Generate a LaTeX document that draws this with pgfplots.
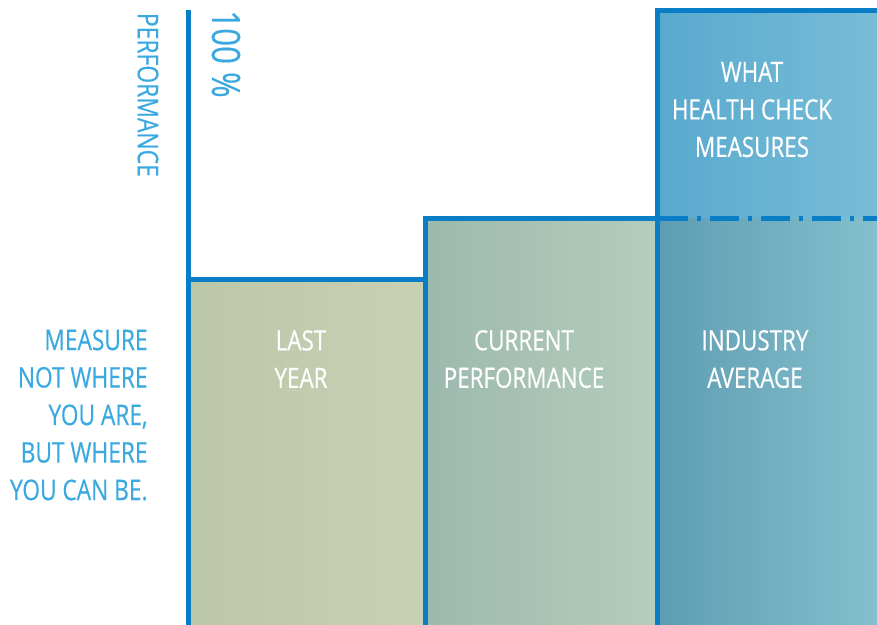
\documentclass[border=0pt]{standalone}
\usepackage{pgfplots}
\pgfplotsset{compat=1.18}
\usepackage{fontspec}
\setmainfont{Open Sans}[FakeStretch=0.8, FakeBold=0.4]
\definecolor{axblue}{HTML}{0A7DC7}
\definecolor{txtblue}{HTML}{3BA9E0}
\definecolor{lyL}{HTML}{BCC6A9}
\definecolor{lyR}{HTML}{C9D1B3}
\definecolor{cpL}{HTML}{9DB9AE}
\definecolor{cpR}{HTML}{B4CDBC}
\definecolor{iaL}{HTML}{5E9DB1}
\definecolor{iaR}{HTML}{84BFCD}
\definecolor{hcL}{HTML}{58A9CE}
\definecolor{hcR}{HTML}{78BDD8}
\begin{document}
\begin{tikzpicture}
\begin{axis}[
  scale only axis, width=438.5pt, height=312.5pt,
  xmin=0, xmax=877, ymin=0, ymax=101.63,
  hide axis, clip=true,
]
\path (axis cs:0,0) rectangle (axis cs:877,101.63);
% fills
\addplot[draw=none, left color=lyL, right color=lyR] coordinates {(188,56.23) (425,56.23)} \closedcycle;
\addplot[draw=none, left color=cpL, right color=cpR] coordinates {(425,66.18) (657,66.18)} \closedcycle;
\addplot[draw=none, left color=hcL, right color=hcR] coordinates {(657,100) (877,100)} \closedcycle;
\addplot[draw=none, left color=iaL, right color=iaR] coordinates {(657,66.18) (877,66.18)} \closedcycle;
% outlines
\addplot[axblue, line width=2.5pt] coordinates {(188,0) (188,100)};
\addplot[axblue, line width=2.5pt] coordinates {(188,56.23) (425,56.23)};
\addplot[axblue, line width=2.5pt, line join=miter] coordinates {(425,0) (425,66.18) (657,66.18)};
\addplot[axblue, line width=2.5pt, line join=miter] coordinates {(657,0) (657,100) (877,100)};
\addplot[axblue, line width=2.5pt, dash pattern=on 14.5pt off 4.5pt on 2pt off 4.5pt] coordinates {(659,66.18) (877,66.18)};
% texts
\node[txtblue, rotate=-90, inner sep=0pt, font=\fontsize{14.3}{18}\selectfont] at (axis cs:148,86.2) {PERFORMANCE};
\node[txtblue, rotate=-90, anchor=west, inner sep=0pt, font=\fontsize{19.5}{24}\selectfont] at (axis cs:226,100) {100 \%};
\node[txtblue, anchor=east, align=right, inner sep=0pt, font=\fontsize{14.2}{18.75}\selectfont] at (axis cs:148,34.15) {MEASURE\\NOT WHERE\\YOU ARE,\\BUT WHERE\\YOU CAN BE.};
\node[white, align=center, inner sep=0pt, font=\fontsize{14}{18.75}\selectfont] at (axis cs:301,43.25) {LAST\\YEAR};
\node[white, align=center, inner sep=0pt, font=\fontsize{14}{18.75}\selectfont] at (axis cs:524,43.25) {CURRENT\\PERFORMANCE};
\node[white, align=center, inner sep=0pt, font=\fontsize{14}{18.75}\selectfont] at (axis cs:755,43.25) {INDUSTRY\\AVERAGE};
\node[white, align=center, inner sep=0pt, font=\fontsize{14}{18.75}\selectfont] at (axis cs:752,83.82) {WHAT\\HEALTH CHECK\\MEASURES};
\end{axis}
\end{tikzpicture}
\end{document}
